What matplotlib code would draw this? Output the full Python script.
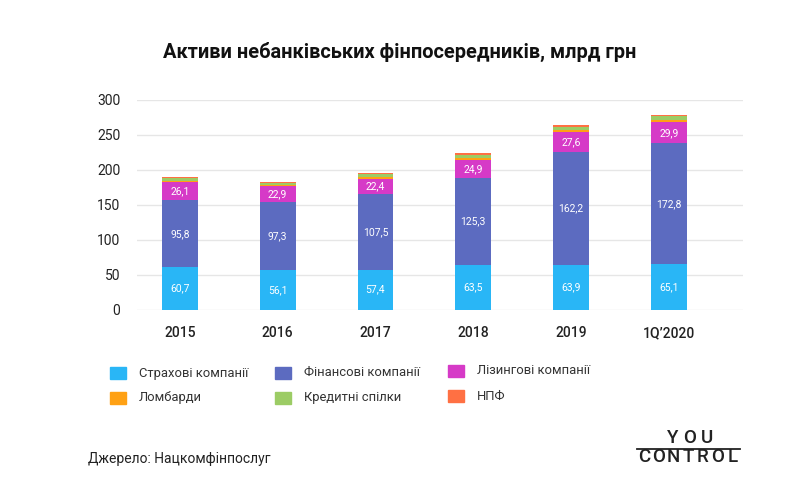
import matplotlib
matplotlib.use("Agg")
import matplotlib.pyplot as plt
import numpy as np

plt.rcParams['font.family'] = ['Roboto', 'DejaVu Sans']

years = ["2015", "2016", "2017", "2018", "2019", "1Q\u20192020"]
insurance = [60.7, 56.1, 57.4, 63.5, 63.9, 65.1]
finance = [95.8, 97.3, 107.5, 125.3, 162.2, 172.8]
leasing = [26.1, 22.9, 22.4, 24.9, 27.6, 29.9]
lombard = [2.0, 2.0, 2.5, 2.9, 3.3, 3.8]
credit = [3.2, 3.2, 4.0, 4.8, 4.3, 4.8]
npf = [1.5, 1.5, 1.5, 2.5, 2.4, 2.4]

series = [
    ("Страхові компанії", insurance, "#29B6F6", True),
    ("Фінансові компанії", finance, "#5C6BC0", True),
    ("Лізингові компанії", leasing, "#D63AC7", True),
    ("Ломбарди", lombard, "#FFA114", False),
    ("Кредитні спілки", credit, "#9CCC65", False),
    ("НПФ", npf, "#FF7043", False),
]

fig = plt.figure(figsize=(8, 4.97), dpi=100)
ax = fig.add_axes([0.171, 0.377, 0.7575, 0.422])

x = np.arange(len(years))
bottom = np.zeros(len(years))
for name, vals, color, labelled in series:
    vals = np.array(vals)
    ax.bar(x, vals, 0.367, bottom=bottom, color=color, zorder=3)
    if labelled:
        for xi, b, v in zip(x, bottom, vals):
            ax.text(xi, b + v / 2, f"{v:.1f}".replace(".", ","), ha="center", va="center",
                    color="white", fontsize=7.5, zorder=4)
    bottom += vals

ax.set_xlim(-0.44, 5.755)
ax.set_ylim(0, 300)
ax.set_yticks(range(0, 301, 50))
ax.set_xticks(x)
ax.set_xticklabels(years, fontsize=10, fontweight="medium", color="#222222")
ax.tick_params(axis="y", labelsize=10, colors="#222222", length=0, pad=12)
ax.tick_params(axis="x", length=0, pad=12)
ax.grid(axis="y", color="#e6e6e6", lw=1, zorder=0)
for s in ax.spines.values():
    s.set_visible(False)

fig.text(0.5, 0.895, "Активи небанківських фінпосередників, млрд грн", ha="center", va="center",
         fontsize=14.4, fontweight="bold", color="#111111")

# legend
leg_pos = [(110, 373), (275, 373), (448, 371), (110, 398), (275, 398), (448, 396)]
for (name, vals, color, _), (px, py) in zip(series, leg_pos):
    fig.patches.append(plt.Rectangle((px / 800, 1 - (py + 6) / 497), 16 / 800, 12 / 497,
                                     transform=fig.transFigure, color=color))
    fig.text((px + 29) / 800, 1 - py / 497, name, ha="left", va="center",
             fontsize=9.4, color="#333333")

fig.text(88 / 800, 1 - 459 / 497, "Джерело: Нацкомфінпослуг", ha="left", va="center",
         fontsize=10, color="#222222")

# logo, letters spread out one by one
for i, ch in enumerate("YOU"):
    fig.text((673 + i * 17) / 800, 1 - 438 / 497, ch, ha="center", va="center",
             fontsize=13.5, fontweight="medium", color="#222222")
for i, ch in enumerate("CONTROL"):
    fig.text((644 + i * 14.7) / 800, 1 - 457 / 497, ch, ha="center", va="center",
             fontsize=13.5, fontweight="medium", color="#222222")
fig.add_artist(plt.Line2D([637 / 800, 740 / 800], [1 - 448.5 / 497] * 2, color="#222222", lw=1.3))

fig.savefig("out.png", dpi=100, facecolor="white")
